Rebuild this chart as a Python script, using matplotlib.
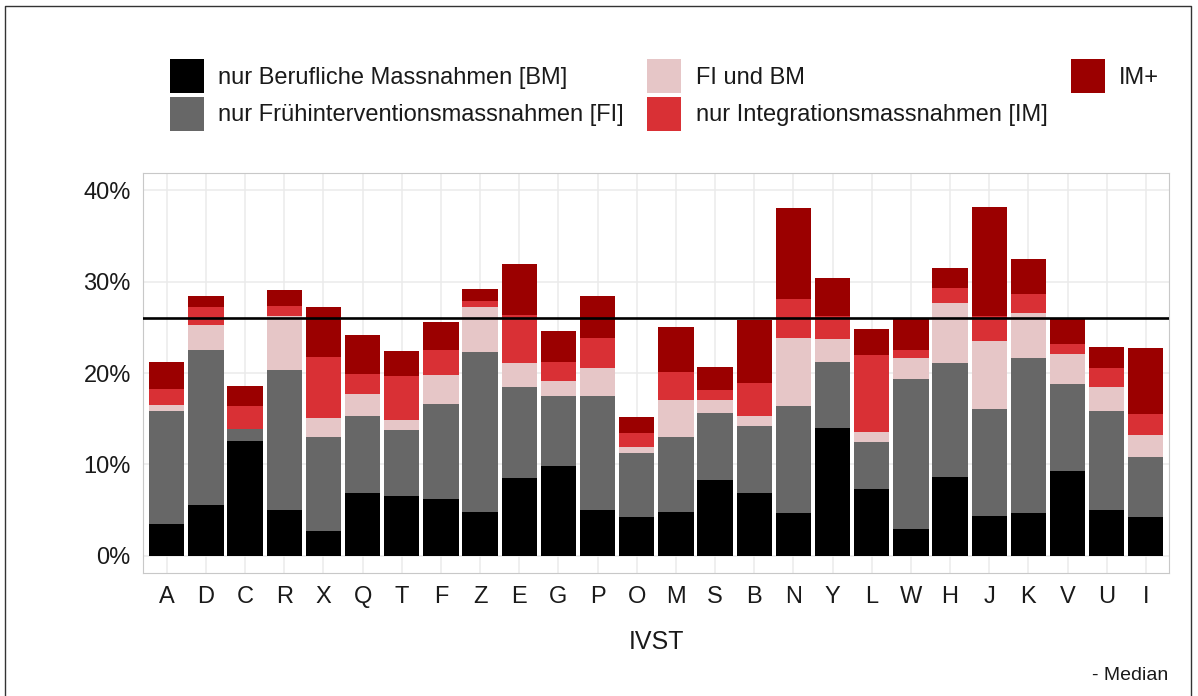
import numpy as np
import matplotlib
matplotlib.use('Agg')
import matplotlib.pyplot as plt
from matplotlib.patches import Patch
from matplotlib.lines import Line2D

plt.rcParams['font.family'] = ['Liberation Sans', 'DejaVu Sans']

#-------------------------   Data (percent)   ---------------------------------

ivst = ['A', 'D', 'C', 'R', 'X', 'Q', 'T', 'F', 'Z', 'E', 'G', 'P', 'O',
        'M', 'S', 'B', 'N', 'Y', 'L', 'W', 'H', 'J', 'K', 'V', 'U', 'I']

bm = [3.5, 5.6, 12.6, 5.0, 2.7, 6.9, 6.5, 6.2, 4.8, 8.5, 9.8, 5.0, 4.2,
      4.8, 8.25, 6.85, 4.65, 14.0, 7.25, 2.95, 8.6, 4.35, 4.7, 9.3, 4.95, 4.25]
fi = [12.4, 16.9, 1.3, 15.3, 10.3, 8.4, 7.3, 10.45, 17.55, 9.95, 7.7, 12.5, 7.05,
      8.2, 7.35, 7.35, 11.7, 7.2, 5.25, 16.4, 12.5, 11.75, 16.9, 9.5, 10.9, 6.55]
fibm = [0.6, 2.8, 0.0, 5.95, 2.1, 2.45, 1.1, 3.15, 4.85, 2.65, 1.6, 3.1, 0.7,
        4.0, 1.5, 1.1, 7.45, 2.5, 1.05, 2.25, 6.6, 7.4, 5.0, 3.3, 2.65, 2.4]
im = [1.8, 1.9, 2.5, 1.1, 6.7, 2.1, 4.8, 2.7, 0.7, 5.3, 2.15, 3.2, 1.45,
      3.15, 1.1, 3.65, 4.3, 2.6, 8.45, 0.95, 1.65, 2.8, 2.1, 1.05, 2.05, 2.35]
implus = [2.95, 1.2, 2.15, 1.75, 5.4, 4.3, 2.7, 3.1, 1.3, 5.55, 3.35, 4.65, 1.8,
          4.95, 2.45, 6.85, 9.95, 4.15, 2.8, 3.35, 2.2, 11.85, 3.75, 2.75, 2.35, 7.15]

median = 26.0

labels = ['nur Berufliche Massnahmen [BM]',
          'nur Frühinterventionsmassnahmen [FI]',
          'FI und BM',
          'nur Integrationsmassnahmen [IM]',
          'IM+']
cols = ['#000000', '#676767', '#E6C6C7', '#D93035', '#9B0000']

yticks = [0, 10, 20, 30, 40]

#-------------------------   Plot   -------------------------------------------

fsize = 17
txtcol = '#1a1a1a'
gridcol = '#EBEBEB'

fig = plt.figure(figsize=(11.98, 6.96), dpi=100)
ax = fig.add_axes([0.1196, 0.1763, 0.8565, 0.5756])

x = np.arange(len(ivst))
series = [bm, fi, fibm, im, implus]
bottom = np.zeros(len(ivst))
for vals, col, lab in zip(series, cols, labels):
    ax.bar(x, vals, bottom=bottom, width=0.9, color=col, label=lab, zorder=2)
    bottom = bottom + np.array(vals)

ax.axhline(median, color='black', lw=1.9, zorder=3)

ax.set_xlim(-0.6, len(ivst) - 0.4)
ax.set_ylim(-1.93, 41.95)
ax.set_xticks(x)
ax.set_xticklabels(ivst, fontsize=fsize)
ax.set_yticks(yticks)
ax.set_yticklabels([str(t) + '%' for t in yticks], fontsize=fsize)
ax.tick_params(axis='both', length=0, colors=txtcol)
ax.tick_params(axis='y', pad=9)
ax.tick_params(axis='x', pad=9)

ax.set_axisbelow(True)
ax.grid(True, color=gridcol, lw=1.1, zorder=0)
for s in ax.spines.values():
    s.set_color('#C8C8C8')
    s.set_linewidth(0.8)

ax.set_xlabel('IVST', fontsize=fsize + 1, labelpad=16, color=txtcol)

#Legend (square keys)
handles = [Patch(facecolor=c, edgecolor='none') for c in cols]
fig.legend(handles, labels, ncol=3, loc='upper left',
           bbox_to_anchor=(170 / 1198, 1 - 59 / 696), frameon=False,
           fontsize=fsize, labelcolor=txtcol,
           handlelength=1.44, handleheight=1.84, handletextpad=0.6,
           columnspacing=1.0, labelspacing=0.15, borderpad=0,
           borderaxespad=0)

#Caption
fig.text(0.975, 1 - 676 / 696, '- Median', ha='right', va='center',
         fontsize=14, color=txtcol)

#Outer frame
fl = 5 / 1198
fr = 1191 / 1198
ft = 1 - 6 / 696
fig.add_artist(Line2D([fl, fl, fr, fr], [0, ft, ft, 0], color='#333333',
                      lw=1.0, transform=fig.transFigure))

plt.savefig('out.png', dpi=100)
